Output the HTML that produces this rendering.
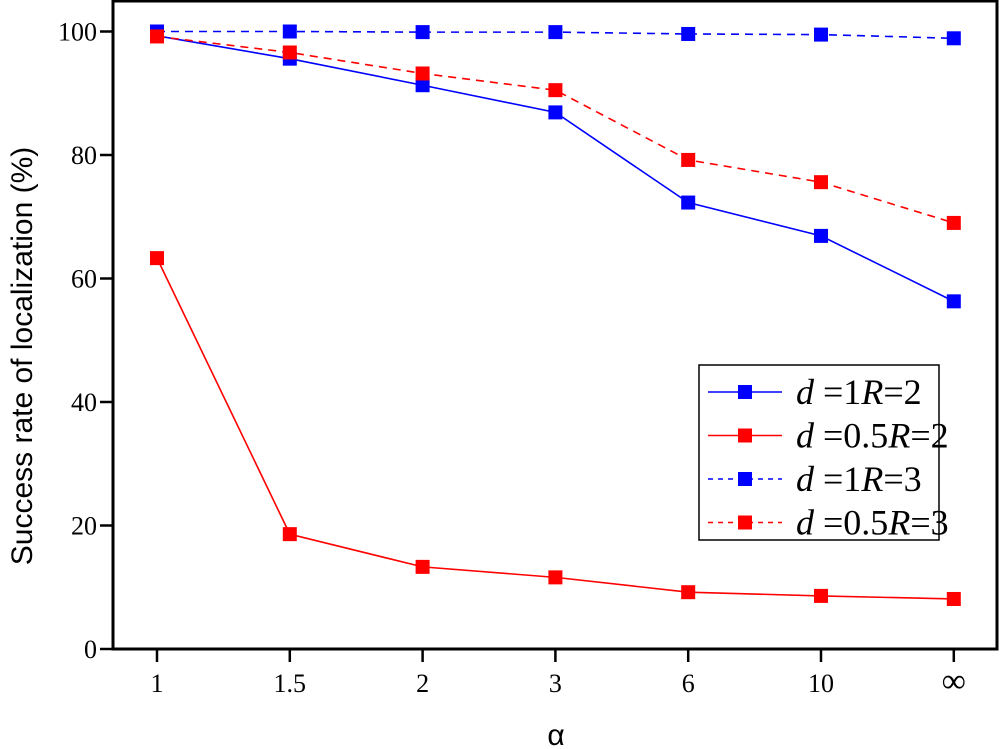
<!DOCTYPE html>
<html><head><meta charset="utf-8"><style>
html,body{margin:0;padding:0;background:#fff;}
svg{display:block;font-family:"Liberation Serif",serif;}
</style></head><body>
<svg id="chart" width="1000" height="749" viewBox="0 0 1000 749" xmlns="http://www.w3.org/2000/svg">
<rect x="113" y="1" width="884" height="648" fill="none" stroke="#000" stroke-width="3"/>
<g id="axes"></g>
<g id="series"></g>
<text transform="translate(32,356) rotate(-90)" text-anchor="middle" font-family="Liberation Sans, sans-serif" font-size="30">Success rate of localization (%)</text>
<text x="556" y="745" text-anchor="middle" font-family="Liberation Sans, sans-serif" font-size="30">α</text>
<g>
<rect x="699" y="365" width="240" height="175" fill="#fff" stroke="#000" stroke-width="1.5"/>
<g id="legend"></g>
</g>
</svg>
<script>
const categories = ["1","1.5","2","3","6","10","∞"];
const yTicks = [0,20,40,60,80,100];
const seriesNames = ["d=1 R=2","d=0.5 R=2","d=1 R=3","d=0.5 R=3"];
const s1 = [99.3,95.6,91.3,86.9,72.3,66.9,56.3];
const s2 = [63.3,18.6,13.3,11.6,9.2,8.6,8.1];
const s3 = [100,100,99.9,99.9,99.6,99.5,98.9];
const s4 = [99.2,96.6,93.2,90.5,79.2,75.6,69.0];

const NS="http://www.w3.org/2000/svg";
const x = i => 157 + i*132.8;
const y = v => 649 - v*6.175;
function mk(tag, attrs, parent){const e=document.createElementNS(NS,tag);for(const k in attrs)e.setAttribute(k,attrs[k]);parent.appendChild(e);return e;}
const axes=document.getElementById('axes');
yTicks.forEach(t=>{
  const l=mk('line',{x1:100,x2:113,y1:y(t),y2:y(t),stroke:'#000','stroke-width':2.5},axes);
  
  
  const tx=mk('text',{x:97,y:y(t)+9,'text-anchor':'end','font-size':26},axes);
  tx.textContent=t;
  
  
});
categories.forEach((c,i)=>{
  const l=mk('line',{x1:x(i),x2:x(i),y1:649,y2:662,stroke:'#000','stroke-width':2.5},axes);
  
  
  const tx=mk('text',{x:x(i),y:692,'text-anchor':'middle','font-size':c==="∞"?34:26},axes);
  tx.textContent=c;
  
  
});
const styles=[{d:s3,c:'#0000ff',dash:'8,6'},{d:s1,c:'#0000ff',dash:''},{d:s4,c:'#ff0000',dash:'8,6'},{d:s2,c:'#ff0000',dash:''}];
const g=document.getElementById('series');
styles.forEach((s,k)=>{
  const p=mk('polyline',{points:s.d.map((v,i)=>x(i)+','+y(v)).join(' '),fill:'none',stroke:s.c,'stroke-width':1.6,'stroke-dasharray':s.dash},g);
  
  
});
styles.forEach(s=>{
  s.d.forEach((v,i)=>{
    const r=mk('rect',{x:x(i)-7,y:y(v)-7,width:14,height:14,fill:s.c},g);
    
    
  });
});
const leg=document.getElementById('legend');
const legStyles=[{c:'#0000ff',dash:'',t:['1','2']},{c:'#ff0000',dash:'',t:['0.5','2']},{c:'#0000ff',dash:'5,5',t:['1','3']},{c:'#ff0000',dash:'5,5',t:['0.5','3']}];
legStyles.forEach((s,i)=>{
  const yy=392+i*43.5;
  const l=mk('line',{x1:708,x2:782,y1:yy,y2:yy,stroke:s.c,'stroke-width':1.6,'stroke-dasharray':s.dash},leg);
  
  
  const r=mk('rect',{x:738,y:yy-7,width:14,height:14,fill:s.c},leg);
  
  
  const t=mk('text',{x:796,y:yy+12,'font-size':36},leg);
  t.innerHTML='<tspan font-style="italic">d</tspan> =' + s.t[0] + '<tspan font-style="italic">R</tspan>=' + s.t[1];
  
  
});
</script>
</body></html>
